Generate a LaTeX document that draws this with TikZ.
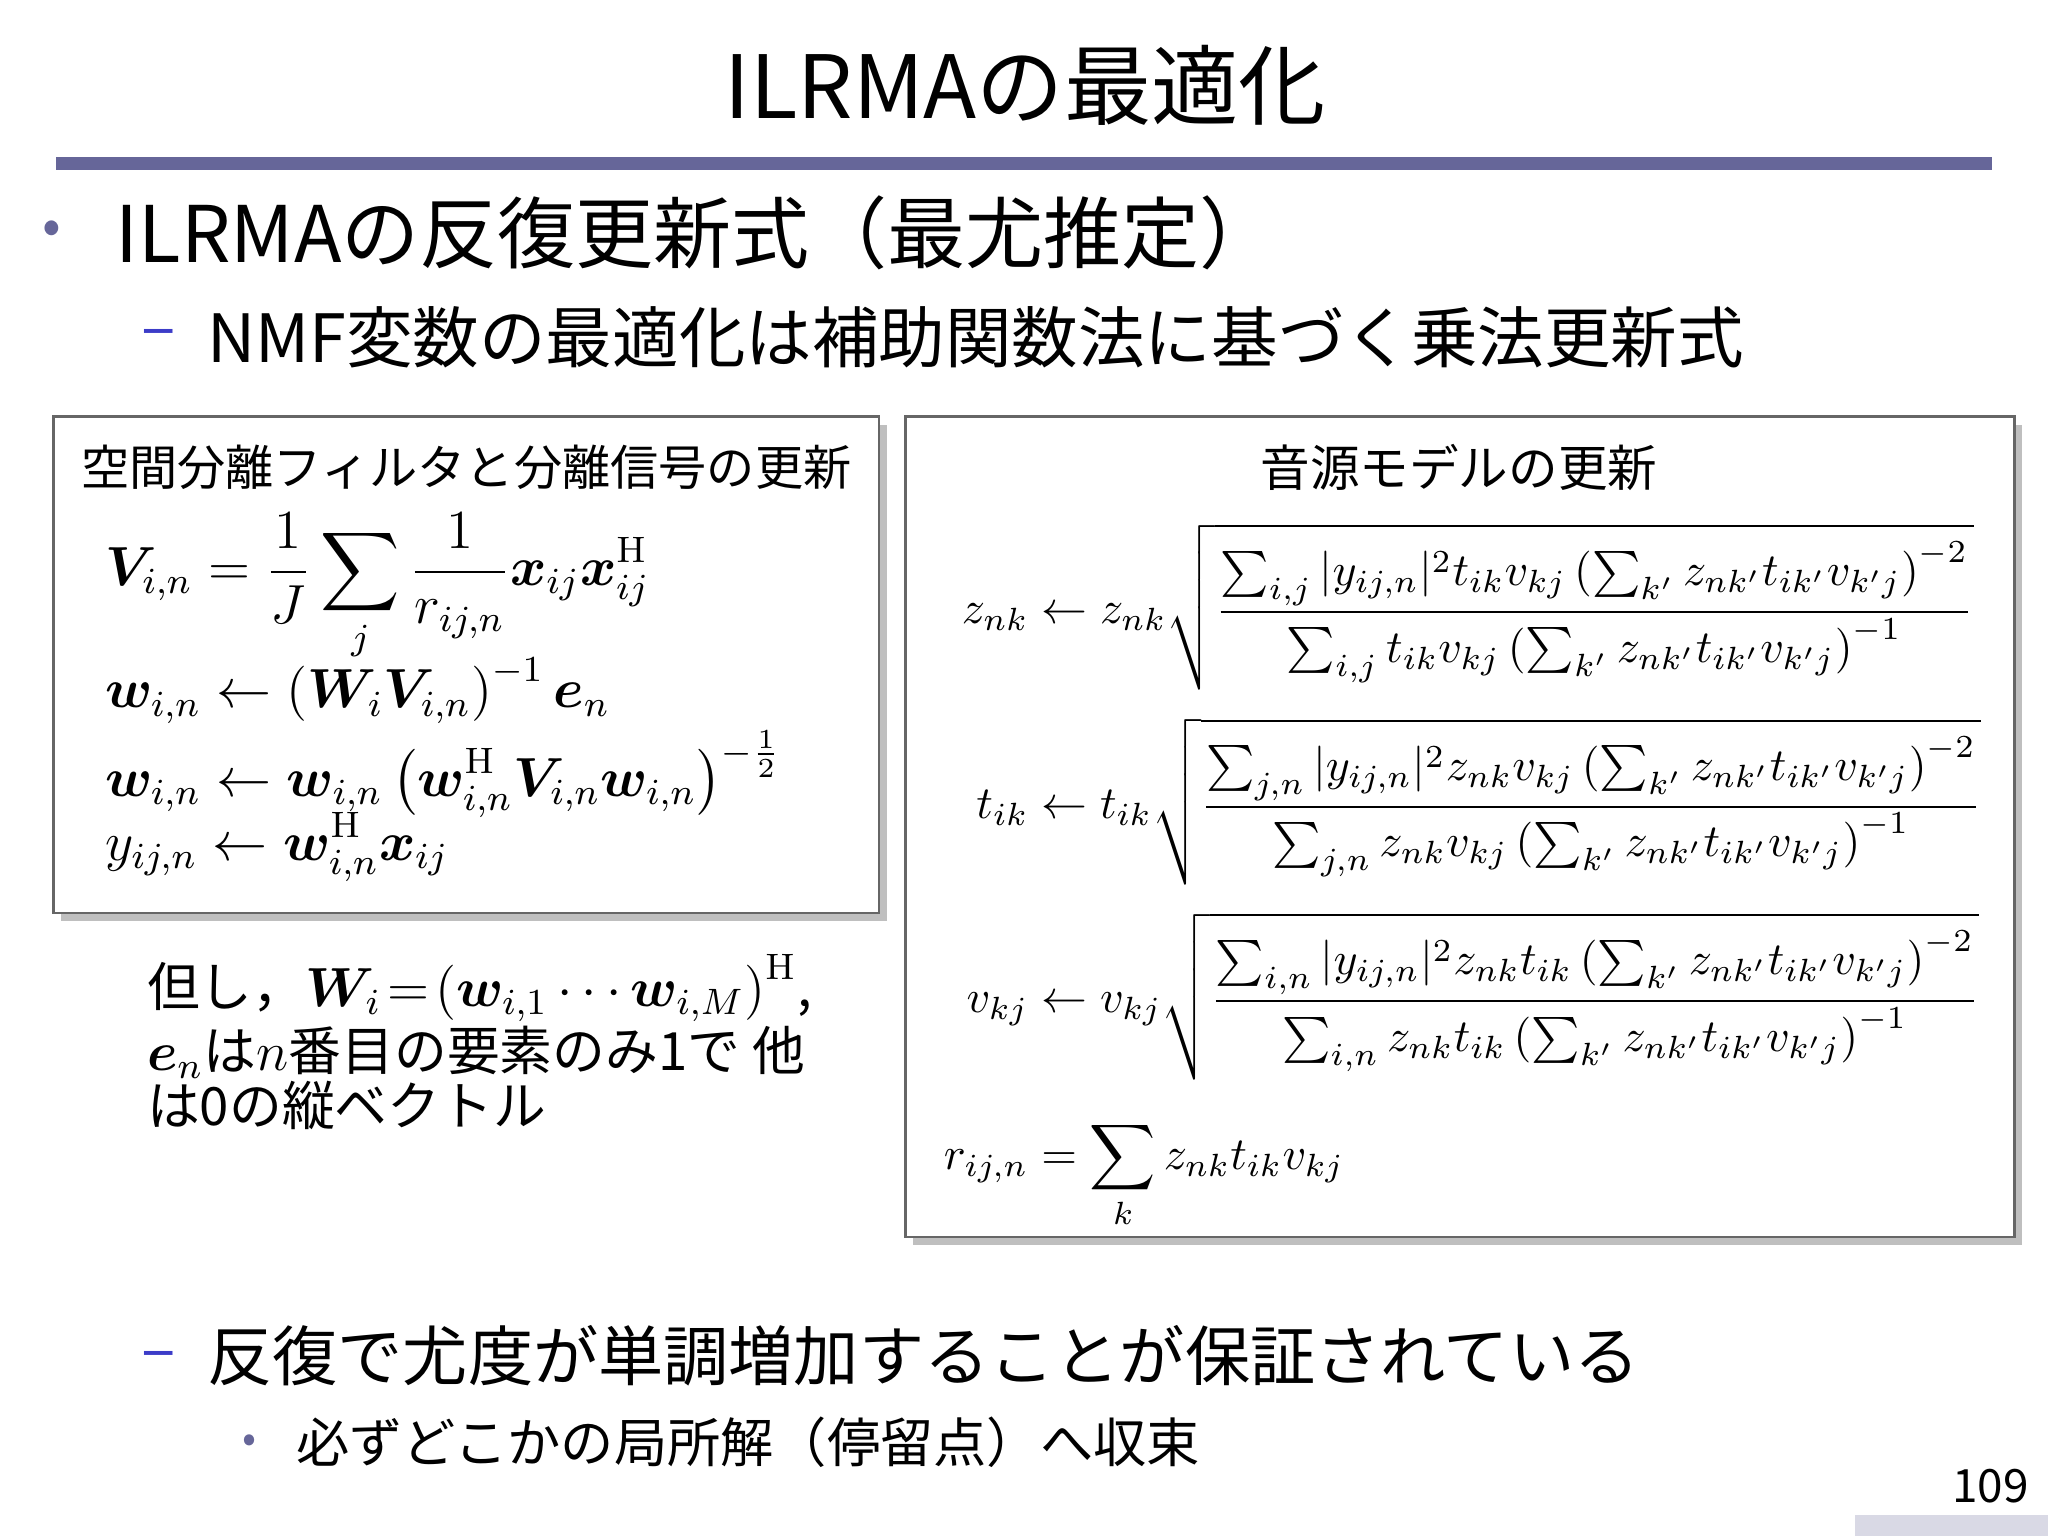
\documentclass[tikz,border=0pt]{standalone}
\usepackage{amsmath,bm}
\usepackage[no-math]{fontspec}
\setmainfont{Noto Sans CJK JP}
\usetikzlibrary{shadows}
\definecolor{barc}{RGB}{102,102,153}
\definecolor{dashc}{RGB}{60,60,200}
\tikzset{
 box/.style={draw=black!60,line width=0.6pt,fill=white,drop shadow={shadow xshift=0.6mm,shadow yshift=-0.6mm,opacity=0.5}},
 txt/.style={anchor=west,inner sep=0pt},
}
\begin{document}
\begin{tikzpicture}[x=1cm,y=-1cm]
\useasboundingbox (0,0) rectangle (15.68,11.76);
\node (title) at (7.85,0.65) {\fontsize{19}{22}\selectfont ILRMAの最適化};
\fill[barc] (0.43,1.2) rectangle (15.25,1.3);
\node[txt] (b1d) at (0.32,1.78) {\fontsize{12}{14}\selectfont\color{barc}•};
\node[txt] (b1) at (0.88,1.78) {\fontsize{17}{20}\selectfont ILRMAの反復更新式（最尤推定）};
\node[txt] (b2d) at (1.08,2.6) {\fontsize{14}{16}\selectfont\color{dashc}–};
\node[txt] (b2) at (1.58,2.58) {\fontsize{14.5}{18}\selectfont NMF変数の最適化は補助関数法に基づく乗法更新式};
\node[box,minimum width=6.32cm,minimum height=3.8cm,anchor=north west] (lbox) at (0.40,3.18) {};
\node[box,minimum width=8.49cm,minimum height=6.28cm,anchor=north west] (rbox) at (6.92,3.18) {};
\node (lt) at (3.57,3.58) {\fontsize{10.5}{14}\selectfont 空間分離フィルタと分離信号の更新};
\node[anchor=north west,inner sep=0pt] (leq) at (0.8,3.92) {\fontsize{11.5}{13}\selectfont$\begin{aligned}[t]
&\bm{V}_{i,n}=\frac{1}{J}\sum_j\frac{1}{r_{ij,n}}\bm{x}_{ij}\bm{x}_{ij}^{\mathrm{H}}\\[-5pt]
&\bm{w}_{i,n}\leftarrow\left(\bm{W}_i\bm{V}_{i,n}\right)^{-1}\bm{e}_n\\[-3pt]
&\bm{w}_{i,n}\leftarrow\bm{w}_{i,n}\left(\bm{w}_{i,n}^{\mathrm{H}}\bm{V}_{i,n}\bm{w}_{i,n}\right)^{-\frac12}\\[-5pt]
&y_{ij,n}\leftarrow\bm{w}_{i,n}^{\mathrm{H}}\bm{x}_{ij}
\end{aligned}$};
\node[anchor=north west,align=left,inner sep=0pt] (note) at (1.12,7.3) {\fontsize{11.5}{16}\selectfont 但し，$\bm{W}_i\!=\!\left(\bm{w}_{i,1}\cdots\bm{w}_{i,M}\right)^{\mathrm{H}}$,\\ \fontsize{11.5}{16}\selectfont$\bm{e}_n$は$n$番目の要素のみ1で 他\\ \fontsize{11.5}{16}\selectfont は0の縦ベクトル};
\node (rt) at (11.17,3.58) {\fontsize{10.8}{14}\selectfont 音源モデルの更新};
\node[anchor=north west,inner sep=0pt] (req) at (7.22,4.0) {\fontsize{10}{12}\selectfont$\begin{aligned}[t]
z_{nk}&\leftarrow z_{nk}\sqrt{\frac{\sum_{i,j}|y_{ij,n}|^2t_{ik}v_{kj}\left(\sum_{k'}z_{nk'}t_{ik'}v_{k'j}\right)^{-2}}{\sum_{i,j}t_{ik}v_{kj}\left(\sum_{k'}z_{nk'}t_{ik'}v_{k'j}\right)^{-1}}}\\[2pt]
t_{ik}&\leftarrow t_{ik}\sqrt{\frac{\sum_{j,n}|y_{ij,n}|^2z_{nk}v_{kj}\left(\sum_{k'}z_{nk'}t_{ik'}v_{k'j}\right)^{-2}}{\sum_{j,n}z_{nk}v_{kj}\left(\sum_{k'}z_{nk'}t_{ik'}v_{k'j}\right)^{-1}}}\\[2pt]
v_{kj}&\leftarrow v_{kj}\sqrt{\frac{\sum_{i,n}|y_{ij,n}|^2z_{nk}t_{ik}\left(\sum_{k'}z_{nk'}t_{ik'}v_{k'j}\right)^{-2}}{\sum_{i,n}z_{nk}t_{ik}\left(\sum_{k'}z_{nk'}t_{ik'}v_{k'j}\right)^{-1}}}\\[5pt]
r_{ij,n}&=\sum_k z_{nk}t_{ik}v_{kj}
\end{aligned}$};
\node[txt] (b3d) at (1.08,10.42) {\fontsize{14}{16}\selectfont\color{dashc}–};
\node[txt] (b3) at (1.58,10.38) {\fontsize{14.2}{18}\selectfont 反復で尤度が単調増加することが保証されている};
\node[txt] (b4d) at (1.85,11.05) {\fontsize{9}{11}\selectfont\color{barc}•};
\node[txt] (b4) at (2.26,11.04) {\fontsize{11.6}{16}\selectfont 必ずどこかの局所解（停留点）へ収束};
\node (pg) at (15.24,11.38) {\fontsize{10}{13}\selectfont 109};
\fill[barc!25] (14.2,11.6) rectangle (15.68,11.76);
\end{tikzpicture}
\end{document}
